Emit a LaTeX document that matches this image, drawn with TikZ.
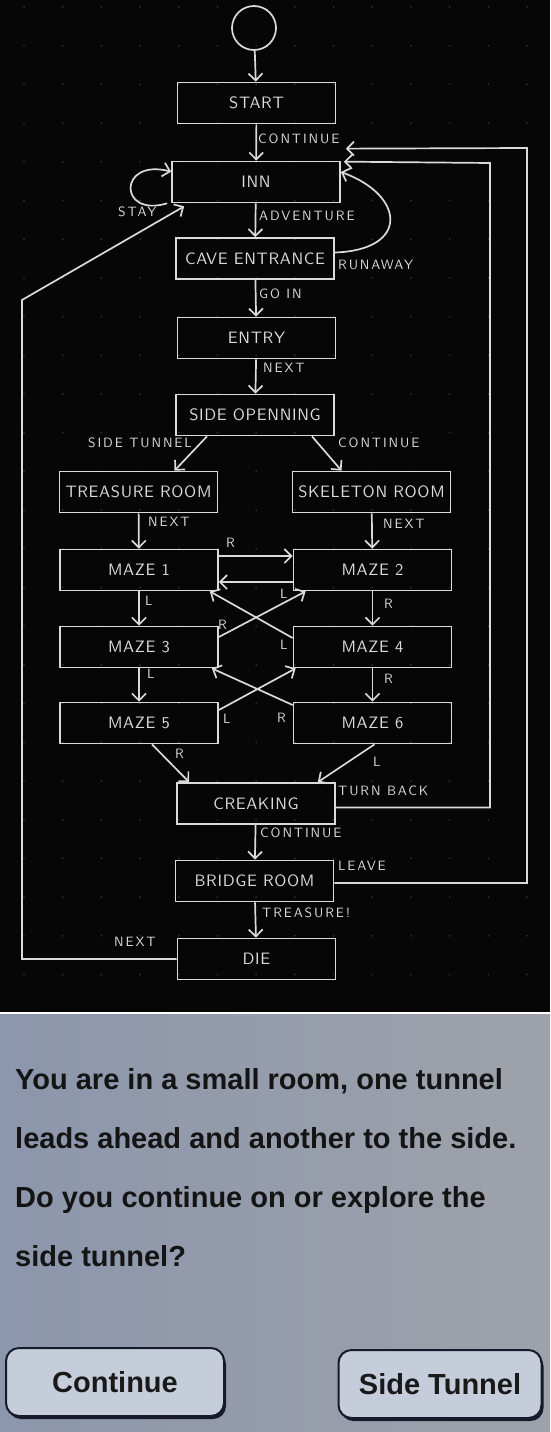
\documentclass[tikz,border=0pt]{standalone}
\usepackage{fontspec}
\setmainfont{Liberation Sans}
\newfontfamily\handfont{lmsans10-regular.otf}[LetterSpace=4]
\newfontfamily\handsmall{lmsans10-regular.otf}[LetterSpace=14]
\usetikzlibrary{arrows.meta,shadows}
\pgfdeclarelayer{background}
\pgfsetlayers{background,main}
\definecolor{chalk}{RGB}{218,218,218}
\definecolor{paper}{RGB}{6,6,6}
\definecolor{griddot}{RGB}{48,48,48}
\definecolor{lcdleft}{RGB}{140,150,172}
\definecolor{lcdright}{RGB}{158,162,170}
\definecolor{keyface}{RGB}{198,205,218}
\definecolor{keyrim}{RGB}{22,26,44}
\tikzstyle{room}=[draw=chalk,line width=1.7pt,minimum width=158pt,minimum height=41pt,inner sep=0pt,text=chalk,font=\handfont\fontsize{16.5}{16.5}\selectfont]
\tikzstyle{lbl}=[text=chalk,anchor=west,inner sep=0pt,font=\handsmall\fontsize{13.5}{13.5}\selectfont]
\tikzstyle{edge}=[draw=chalk,line width=1.7pt,-{Straight Barb[length=7pt,width=14pt]}]
\tikzstyle{button}=[draw=keyrim,line width=2pt,fill=keyface,rounded corners=13pt,drop shadow={shadow xshift=2pt,shadow yshift=-3pt,fill=keyrim,opacity=1},font=\fontsize{29}{29}\selectfont\bfseries,text=black!90]

\begin{document}
\begin{tikzpicture}[x=1pt,y=-1pt]
	\useasboundingbox (0,0) rectangle (550,1432);
	\node[circle,draw=chalk,line width=1.7pt,minimum size=44pt,inner sep=0pt] (c0) at (254,28) {};
	\node[room,minimum width=168pt] (inn) at (256,182) {INN};
	\foreach \pos/\name/\txt in {{(256.5,103)/start/START}, {(255,258.5)/cave/CAVE ENTRANCE},
                            {(256.5,338)/entry/ENTRY}, {(255,415)/side/SIDE OPENNING},
                            {(138.5,492)/treasure/TREASURE ROOM}, {(371.5,492)/skel/SKELETON ROOM},
                            {(139,570)/maze1/MAZE 1}, {(372.5,570)/maze2/MAZE 2},
                            {(139,647)/maze3/MAZE 3}, {(372.5,647)/maze4/MAZE 4},
                            {(139,723)/maze5/MAZE 5}, {(372.5,723)/maze6/MAZE 6},
                            {(256,803.5)/creak/CREAKING}, {(254.5,881)/bridge/BRIDGE ROOM},
                            {(256.5,959)/die/DIE}}
        \node[room] (\name) at \pos {\txt};
    \foreach \source/ \dest in {c0/start, start/inn, inn/cave, cave/entry, entry/side,
                                treasure/maze1, skel/maze2, maze1/maze3, maze3/maze5,
                                maze2/maze4, maze4/maze6, creak/bridge, bridge/die}
        \path[edge] (\source) -- (\dest);

    % side opening split
    \path[edge] ([xshift=-48pt]side.south) -- ([xshift=36pt]treasure.north);
    \path[edge] ([xshift=57pt]side.south) -- ([xshift=-30pt]skel.north);
    % maze links
    \path[edge] ([yshift=14pt]maze1.east) -- ([yshift=14pt]maze2.west);
    \path[edge] ([yshift=-12pt]maze2.west) -- ([yshift=-12pt]maze1.east);
    \path[edge] ([yshift=10pt]maze3.east) -- ([xshift=13pt]maze2.south west);
    \path[edge] ([yshift=9pt]maze4.west) -- ([xshift=-9pt]maze1.south east);
    \path[edge] ([yshift=13pt]maze5.east) -- ([xshift=3pt]maze4.south west);
    \path[edge] ([yshift=18pt]maze6.west) -- ([xshift=-7pt]maze3.south east);
    \path[edge] ([xshift=13pt]maze5.south) -- ([xshift=13pt]creak.north west);
    \path[edge] ([xshift=2pt]maze6.south) -- ([xshift=-18pt]creak.north east);
    % loops back to the inn
    \path[edge] ([xshift=-4pt]inn.south west) .. controls (118,218) and (118,158) .. ([yshift=-11pt]inn.north west);
    \path[edge] ([yshift=6pt]cave.east) .. controls (410,250) and (405,195) .. ([yshift=10pt]inn.east);
    \coordinate (turnback) at (490,163);
    \coordinate (leave) at (527,148);
    \coordinate (back) at (22,300);
    \path[edge] ([yshift=-4pt]creak.east) -| (turnback) -- ([xshift=3pt,yshift=-1pt]inn.north east);
    \path[edge] ([yshift=-2pt]bridge.east) -| (leave) -- ([xshift=5pt,yshift=12pt]inn.north east);
    \path[edge] (die.west) -| (back) -- ([xshift=13pt,yshift=-3pt]inn.south west);

    \foreach \pos/\txt [count=\i] in {{(258,139)/CONTINUE}, {(118,212)/STAY}, {(259,216)/ADVENTURE},
                            {(338,265)/RUNAWAY}, {(259,294)/GO IN}, {(263,368)/NEXT},
                            {(88,443)/SIDE TUNNEL}, {(338,443)/CONTINUE}, {(148,522)/NEXT},
                            {(383,524)/NEXT}, {(226,543)/R}, {(280,594)/L}, {(145,601)/L},
                            {(384,604)/R}, {(218,625)/R}, {(280,645)/L}, {(147,674)/L},
                            {(384,679)/R}, {(223,719)/L}, {(277,718)/R}, {(175,754)/R},
                            {(373,762)/L}, {(338,791)/TURN BACK}, {(260,833)/CONTINUE},
                            {(338,866)/LEAVE}, {(262,913)/TREASURE!}, {(114,942)/NEXT}}
        \node[lbl] (lab\i) at \pos {\txt};

    % the game screen
    \node[anchor=north west,align=left,inner sep=0pt,font=\fontsize{29}{59}\selectfont\bfseries,text=black!92] (msg) at (15,1068)
        {You are in a small room, one tunnel\\leads ahead and another to the side.\\Do you continue on or explore the\\side tunnel?};
    \node[button,minimum width=218pt,minimum height=68pt] (cont) at (115,1382) {Continue};
    \node[button,minimum width=203pt,minimum height=68pt] (sidet) at (440,1384) {Side Tunnel};

	\begin{pgfonlayer}{background}
        \fill[paper] (0,0) rectangle (550,1013);
        \foreach \x in {0,...,13}
            \foreach \y in {0,...,25}
                \fill[griddot] (24+38.7*\x,7+38.7*\y) circle (1pt);
        \shade[left color=lcdleft,right color=lcdright] (0,1013) rectangle (550,1432);
        \draw[white,line width=1.5pt] (0,1013) -- (550,1013);
    \end{pgfonlayer}
\end{tikzpicture}
\end{document}
